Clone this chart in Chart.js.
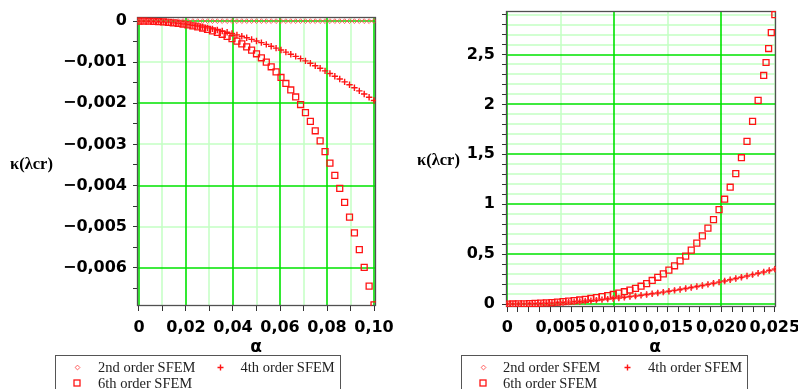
<!DOCTYPE html>
<html><head><meta charset="utf-8">
<script src="https://cdn.jsdelivr.net/npm/chart.js@4.4.0/dist/chart.umd.min.js"></script>
<style>
html,body{margin:0;padding:0;background:#fff;}
body{width:798px;height:389px;overflow:hidden;position:relative;}
canvas{position:absolute;top:0;}
.t{position:absolute;white-space:nowrap;color:#000;}
.ax{font-family:"DejaVu Sans";font-weight:bold;font-size:17px;line-height:20px;transform:translateX(-50%);}
.yl{font-family:"Liberation Serif";font-weight:bold;font-size:16.5px;line-height:20px;}
.lg{position:absolute;top:355px;height:45px;border:1px solid #555;box-sizing:border-box;background:#fff;}
.lt{position:absolute;font-family:"Liberation Serif";font-size:14.5px;line-height:16px;color:#222;white-space:nowrap;}
svg.m{position:absolute;overflow:visible;}
</style>
</head><body>
<canvas id="cL" width="400" height="340" style="left:0"></canvas>
<canvas id="cR" width="398" height="340" style="left:400px"></canvas>

<div class="t yl" style="left:10px;top:154px">κ(λcr)</div>
<div class="t yl" style="left:417px;top:150px">κ(λcr)</div>
<div class="t ax" style="left:256px;top:336px">α</div>
<div class="t ax" style="left:655px;top:336px">α</div>

<div class="lg" style="left:55px;width:286px"></div>
<div class="lg" style="left:461px;width:287px"></div>
<div id="legends"></div>

<script>
// ---------- DATA ----------
const seriesNames = ['2nd order SFEM', '4th order SFEM', '6th order SFEM'];

// Left panel: alpha in [0, 0.1]
const alphaL = [0, 0.00208, 0.00417, 0.00625, 0.00833, 0.01042, 0.0125, 0.01458, 0.01667, 0.01875,
  0.02083, 0.02292, 0.025, 0.02708, 0.02917, 0.03125, 0.03333, 0.03542, 0.0375, 0.03958,
  0.04167, 0.04375, 0.04583, 0.04792, 0.05, 0.05208, 0.05417, 0.05625, 0.05833, 0.06042,
  0.0625, 0.06458, 0.06667, 0.06875, 0.07083, 0.07292, 0.075, 0.07708, 0.07917, 0.08125,
  0.08333, 0.08542, 0.0875, 0.08958, 0.09167, 0.09375, 0.09583, 0.09792, 0.1];
const k2L = [0,0,0,0,0,0,0,0,0,0, 0,0,0,0,0,0,0,0,0,0, 0,0,0,0,0,0,0,0,0,0, 0,0,0,0,0,0,0,0,0,0, 0,0,0,0,0,0,0,0,0];
const k4L = [0, -0.0000008, -0.0000034, -0.0000075, -0.0000134, -0.0000209, -0.0000302, -0.0000411, -0.0000536, -0.0000679,
  -0.0000838, -0.0001014, -0.0001206, -0.0001416, -0.0001642, -0.0001885, -0.0002145, -0.0002421, -0.0002714, -0.0003024,
  -0.0003351, -0.0003694, -0.0004054, -0.0004431, -0.0004825, -0.0005236, -0.0005663, -0.0006107, -0.0006567, -0.0007045,
  -0.0007539, -0.000805, -0.0008578, -0.0009122, -0.0009684, -0.0010262, -0.0010856, -0.0011468, -0.0012096, -0.0012741,
  -0.0013403, -0.0014081, -0.0014777, -0.0015489, -0.0016218, -0.0016963, -0.0017725, -0.0018504, -0.00193];
const k6L = [0, -0.0000008, -0.0000034, -0.0000076, -0.0000136, -0.0000215, -0.0000314, -0.0000433, -0.0000575, -0.000074,
  -0.0000932, -0.0001152, -0.0001402, -0.0001685, -0.0002004, -0.0002362, -0.0002762, -0.0003208, -0.0003703, -0.0004252,
  -0.0004858, -0.0005526, -0.0006261, -0.0007067, -0.000795, -0.0008915, -0.0009967, -0.0011112, -0.0012357, -0.0013707,
  -0.0015169, -0.0016749, -0.0018454, -0.0020293, -0.0022271, -0.0024396, -0.0026677, -0.0029121, -0.0031736, -0.0034531,
  -0.0037516, -0.0040697, -0.0044086, -0.004769, -0.0051521, -0.0055587, -0.0059899, -0.0064466, -0.0069];

// Right panel: alpha in [0, 0.025]
const alphaR = [0, 0.00052, 0.00104, 0.00156, 0.00208, 0.0026, 0.00313, 0.00365, 0.00417, 0.00469,
  0.00521, 0.00573, 0.00625, 0.00677, 0.00729, 0.00781, 0.00833, 0.00885, 0.00938, 0.0099,
  0.01042, 0.01094, 0.01146, 0.01198, 0.0125, 0.01302, 0.01354, 0.01406, 0.01458, 0.0151,
  0.01563, 0.01615, 0.01667, 0.01719, 0.01771, 0.01823, 0.01875, 0.01927, 0.01979, 0.02031,
  0.02083, 0.02135, 0.02188, 0.0224, 0.02292, 0.02344, 0.02396, 0.02448, 0.025];
// 2nd order practically coincides with 4th order in this panel (diamonds hidden under the plus marks)
const k2R = [0, 0.00015, 0.0006, 0.00136, 0.00242, 0.00378, 0.00545, 0.00741, 0.00968, 0.01225,
  0.01513, 0.01831, 0.02179, 0.02557, 0.02965, 0.03404, 0.03873, 0.04372, 0.04902, 0.05462,
  0.06052, 0.06672, 0.07323, 0.08004, 0.08715, 0.09456, 0.10228, 0.1103, 0.11862, 0.12725,
  0.13618, 0.14541, 0.15494, 0.16477, 0.17491, 0.18535, 0.1961, 0.20714, 0.21849, 0.23014,
  0.2421, 0.25435, 0.26691, 0.27977, 0.29294, 0.3064, 0.32017, 0.33424, 0.34862];
const k4R = [0, 0.00015, 0.00061, 0.00137, 0.00243, 0.0038, 0.00547, 0.00744, 0.00972, 0.0123,
  0.01519, 0.01838, 0.02188, 0.02567, 0.02977, 0.03418, 0.03889, 0.0439, 0.04922, 0.05484,
  0.06076, 0.06699, 0.07352, 0.08036, 0.0875, 0.09494, 0.10269, 0.11074, 0.1191, 0.12776,
  0.13672, 0.14599, 0.15556, 0.16543, 0.17561, 0.18609, 0.19688, 0.20796, 0.21936, 0.23106,
  0.24306, 0.25536, 0.26797, 0.28088, 0.2941, 0.30762, 0.32144, 0.33557, 0.35];
const alpha6R = [0, 0.00052, 0.00104, 0.00156, 0.00208, 0.0026, 0.00313, 0.00365, 0.00417, 0.00469,
  0.00521, 0.00573, 0.00625, 0.00677, 0.00729, 0.00781, 0.00833, 0.00885, 0.00938, 0.0099,
  0.01042, 0.01094, 0.01146, 0.01198, 0.0125, 0.01302, 0.01354, 0.01406, 0.01458, 0.0151,
  0.01563, 0.01615, 0.01667, 0.01719, 0.01771, 0.01823, 0.01875, 0.01927, 0.01979, 0.02031,
  0.02083, 0.02135, 0.02188, 0.0224, 0.02292, 0.02344, 0.02396, 0.02418, 0.02442, 0.02467, 0.025];
const k6R = [0, 0.00023, 0.00091, 0.00206, 0.00366, 0.00573, 0.00827, 0.01129, 0.01481, 0.01883,
  0.02338, 0.02852, 0.03419, 0.04052, 0.04754, 0.05532, 0.06392, 0.07346, 0.08402, 0.09576,
  0.10892, 0.12336, 0.14, 0.157, 0.178, 0.204, 0.236, 0.268, 0.302, 0.34,
  0.383, 0.432, 0.48, 0.54, 0.61, 0.683, 0.76, 0.845, 0.946, 1.05,
  1.17, 1.306, 1.466, 1.63, 1.83, 2.04, 2.29, 2.42, 2.56, 2.72, 2.9];

// Ticks and labels
const leftXTicks = [0, 0.01, 0.02, 0.03, 0.04, 0.05, 0.06, 0.07, 0.08, 0.09, 0.1];
const leftXLabels = ['0', '', '0,02', '', '0,04', '', '0,06', '', '0,08', '', '0,10'];
const leftYTicks = [0, -0.0005, -0.001, -0.0015, -0.002, -0.0025, -0.003, -0.0035, -0.004, -0.0045, -0.005, -0.0055, -0.006, -0.0065];
const leftYLabels = ['0', '', '−0,001', '', '−0,002', '', '−0,003', '', '−0,004', '', '−0,005', '', '−0,006', ''];
const rightXTicks = [0, 0.001, 0.002, 0.003, 0.004, 0.005, 0.006, 0.007, 0.008, 0.009, 0.01, 0.011, 0.012, 0.013,
  0.014, 0.015, 0.016, 0.017, 0.018, 0.019, 0.02, 0.021, 0.022, 0.023, 0.024, 0.025];
const rightXLabels = ['0', '', '', '', '', '0,005', '', '', '', '', '0,010', '', '', '', '', '0,015', '', '', '', '', '0,020', '', '', '', '', '0,025'];
const rightYTicks = [0, 0.1, 0.2, 0.3, 0.4, 0.5, 0.6, 0.7, 0.8, 0.9, 1, 1.1, 1.2, 1.3, 1.4, 1.5, 1.6, 1.7, 1.8, 1.9,
  2, 2.1, 2.2, 2.3, 2.4, 2.5, 2.6, 2.7, 2.8, 2.9];
const rightYLabels = ['0', '', '', '', '', '0,5', '', '', '', '', '1', '', '', '', '', '1,5', '', '', '', '',
  '2', '', '', '', '', '2,5', '', '', '', ''];

// ---------- STYLE ----------
const GREEN = 'rgb(0,228,0)', LIGHT = 'rgb(196,255,196)';
const RED = 'rgb(255,20,20)';
function isMult(v, step) { const r = v / step; return Math.abs(r - Math.round(r)) < 1e-6; }
const tickFont = { family: 'DejaVu Sans', size: 16, weight: 'bold' };

function gridPlugin(cfg) {
  return {
    id: 'gridframe',
    beforeDatasetsDraw(c) {
      const a = c.chartArea, ctx = c.ctx, sx = c.scales.x, sy = c.scales.y;
      ctx.save();
      ctx.beginPath(); ctx.rect(a.left, a.top, a.right - a.left, a.bottom - a.top); ctx.clip();
      const pass = (kind, color, w) => {
        ctx.strokeStyle = color; ctx.lineWidth = w; ctx.beginPath();
        cfg.xTicks.forEach(v => { if (cfg.xGrid(v) === kind) { const p = Math.round(sx.getPixelForValue(v)); ctx.moveTo(p, a.top); ctx.lineTo(p, a.bottom); } });
        cfg.yTicks.forEach(v => { if (cfg.yGrid(v) === kind) { const p = Math.round(sy.getPixelForValue(v)); ctx.moveTo(a.left, p); ctx.lineTo(a.right, p); } });
        ctx.stroke();
      };
      pass('m', LIGHT, 1.5);
      pass('M', GREEN, 1.6);
      ctx.restore();
      ctx.save(); ctx.strokeStyle = '#505050'; ctx.lineWidth = 1.3;
      ctx.strokeRect(Math.round(a.left) + 0.5, Math.round(a.top) + 0.5, Math.round(a.right - a.left) - 1, Math.round(a.bottom - a.top) - 1);
      ctx.restore();
    }
  };
}

function pts(xs, ys) { return ys.map((y, i) => ({ x: xs[i], y: y })); }

function datasets(xs2, y2, xs4, y4, xs6, y6) {
  return [
    { label: seriesNames[0], data: pts(xs2, y2), pointStyle: 'rectRot', pointRadius: 2.4, borderWidth: 1,
      borderColor: 'rgba(255,70,70,0.85)', backgroundColor: 'rgba(0,0,0,0)', showLine: false },
    { label: seriesNames[1], data: pts(xs4, y4), pointStyle: 'cross', pointRadius: 3.2, borderWidth: 1.4,
      borderColor: RED, backgroundColor: RED, showLine: false },
    { label: seriesNames[2], data: pts(xs6, y6), pointStyle: 'rect', pointRadius: 4.2, borderWidth: 1.3,
      borderColor: RED, backgroundColor: 'rgba(0,0,0,0)', showLine: false }
  ];
}

function makeChart(id, cfg) {
  return new Chart(document.getElementById(id), {
    type: 'scatter',
    data: { datasets: cfg.datasets },
    plugins: [gridPlugin(cfg)],
    options: {
      responsive: false, animation: false, devicePixelRatio: 1,
      layout: { padding: { left: 0, top: cfg.top, right: cfg.right, bottom: 0 } },
      plugins: { legend: { display: false }, tooltip: { enabled: false } },
      elements: { point: { hoverRadius: 0 } },
      scales: {
        x: {
          type: 'linear', min: cfg.xmin, max: cfg.xmax,
          afterBuildTicks: s => { s.ticks = cfg.xTicks.map(v => ({ value: v })); },
          afterFit: s => { s.height = cfg.xh; s.paddingLeft = 0; s.paddingRight = 0; },
          ticks: { autoSkip: false, maxRotation: 0, minRotation: 0, padding: cfg.xpad, color: '#000', font: tickFont,
            callback: (v, i) => cfg.xLabels[i] },
          grid: { drawOnChartArea: false, color: '#333', tickColor: '#333', tickLength: 5, lineWidth: 1 },
          border: { display: false }
        },
        y: {
          type: 'linear', min: cfg.ymin, max: cfg.ymax,
          afterBuildTicks: s => { s.ticks = cfg.yTicks.map(v => ({ value: v })); },
          afterFit: s => { s.width = cfg.yw; s.paddingTop = 0; s.paddingBottom = 0; },
          ticks: { autoSkip: false, padding: cfg.ypad, color: '#000', font: tickFont,
            callback: (v, i) => cfg.yLabels[i] },
          grid: { drawOnChartArea: false, color: '#333', tickColor: '#333', tickLength: 4, lineWidth: 1 },
          border: { display: false }
        }
      }
    }
  });
}

makeChart('cL', {
  datasets: datasets(alphaL, k2L, alphaL, k4L, alphaL, k6L),
  top: 17, right: 24, xh: 34, yw: 137, xpad: 7, ypad: 6,
  xmin: -0.00085, xmax: 0.10085, ymin: -0.00693, ymax: 0.0001,
  xTicks: leftXTicks, xLabels: leftXLabels, yTicks: leftYTicks, yLabels: leftYLabels,
  xGrid: v => isMult(v, 0.02) ? 'M' : 'm',
  yGrid: v => isMult(v, 0.002) ? 'M' : (isMult(v, 0.001) ? 'm' : '')
});

makeChart('cR', {
  datasets: datasets(alphaR, k2R, alphaR, k4R, alpha6R, k6R),
  top: 11, right: 22, xh: 33, yw: 106, xpad: 6, ypad: 7,
  xmin: -0.00012, xmax: 0.02511, ymin: -0.03, ymax: 2.936,
  xTicks: rightXTicks, xLabels: rightXLabels, yTicks: rightYTicks, yLabels: rightYLabels,
  xGrid: v => isMult(v, 0.01) ? 'M' : (isMult(v, 0.005) ? 'm' : ''),
  yGrid: v => isMult(v, 0.5) ? 'M' : 'm'
});

// ---------- LEGENDS (HTML) ----------
const marks = {
  diamond: '<svg class="m" width="7" height="7" viewBox="-3.5 -3.5 7 7"><path d="M-2.4 0L0 -2.4L2.4 0L0 2.4Z" fill="none" stroke="rgba(255,70,70,0.85)" stroke-width="1"/></svg>',
  plus: '<svg class="m" width="7" height="7" viewBox="-3.5 -3.5 7 7"><path d="M-3 0H3M0 -3V3" stroke="' + RED + '" stroke-width="1.4"/></svg>',
  square: '<svg class="m" width="8" height="8" viewBox="-4 -4 8 8"><rect x="-3" y="-3" width="6" height="6" fill="none" stroke="' + RED + '" stroke-width="1.3"/></svg>'
};
function legend(items) {
  let h = '';
  items.forEach(it => {
    const w = it.m === 'square' ? 8 : 7;
    h += marks[it.m].replace('class="m"', 'class="m" style="left:' + (it.mx - w / 2) + 'px;top:' + (it.y - w / 2) + 'px"');
    h += '<div class="lt" style="left:' + it.tx + 'px;top:' + (it.y - 8.5) + 'px">' + it.text + '</div>';
  });
  return h;
}
document.getElementById('legends').innerHTML =
  legend([
    { m: 'diamond', mx: 77, tx: 98, y: 367, text: seriesNames[0] },
    { m: 'plus', mx: 220, tx: 240.5, y: 367, text: seriesNames[1] },
    { m: 'square', mx: 77, tx: 98, y: 383, text: seriesNames[2] }
  ]) +
  legend([
    { m: 'diamond', mx: 483, tx: 503, y: 367, text: seriesNames[0] },
    { m: 'plus', mx: 627, tx: 648, y: 367, text: seriesNames[1] },
    { m: 'square', mx: 483, tx: 503, y: 383, text: seriesNames[2] }
  ]);
</script>
</body></html>
